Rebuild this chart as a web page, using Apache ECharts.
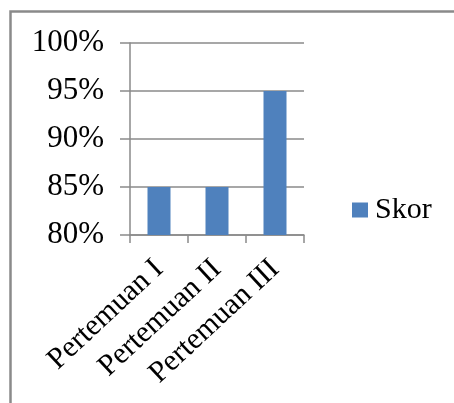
<!DOCTYPE html>
<html>
<head>
<meta charset="utf-8">
<style>
  html, body { margin: 0; padding: 0; background: #fff; }
  #chart { width: 454px; height: 403px; }
</style>
<script src="https://cdn.jsdelivr.net/npm/echarts@6/dist/echarts.min.js"></script>
</head>
<body>
<div id="chart"></div>
<script>
// Meeting categories and their scores (percent)
const categories = ['Pertemuan I', 'Pertemuan II', 'Pertemuan III'];
const skor = [85, 85, 95];
const seriesName = 'Skor';
// Value axis range (percent)
const yMin = 80;
const yMax = 100;
const yStep = 5;

const serif = '"Liberation Serif", "Times New Roman", serif';
const gray = '#8a8a8a';

const chart = echarts.init(document.getElementById('chart'), null, { renderer: 'canvas' });

chart.setOption({
  animation: false,
  backgroundColor: '#ffffff',
  graphic: [{
    type: 'rect',
    shape: { x: 10.5, y: 11.5, width: 600, height: 600 },
    style: { fill: 'none', stroke: gray, lineWidth: 2.5 },
    silent: true
  }],
  grid: { left: 130, right: 150, top: 43, bottom: 168, containLabel: false },
  legend: {
    data: [seriesName],
    left: 352,
    top: 195,
    padding: 0,
    icon: 'rect',
    itemWidth: 16,
    itemHeight: 15,
    textStyle: { fontFamily: serif, fontSize: 30, color: '#000', padding: [0, 0, 0, 2] }
  },
  xAxis: {
    type: 'category',
    data: categories,
    axisLine: { show: true, lineStyle: { color: gray, width: 1.5 } },
    axisTick: { show: true, length: 8, alignWithLabel: false, lineStyle: { color: gray, width: 1.5 } },
    axisLabel: {
      rotate: 43,
      interval: 0,
      margin: 30,
      fontFamily: serif,
      fontSize: 30,
      color: '#000'
    },
    splitLine: { show: false }
  },
  yAxis: {
    type: 'value',
    min: yMin,
    max: yMax,
    interval: yStep,
    axisLine: { show: true, lineStyle: { color: gray, width: 1.5 } },
    axisTick: { show: true, length: 10, inside: false, lineStyle: { color: gray, width: 1.5 } },
    axisLabel: {
      formatter: v => v + '%',
      margin: 26,
      fontFamily: serif,
      fontSize: 31,
      color: '#000'
    },
    splitLine: { show: true, lineStyle: { color: gray, width: 1.5 } }
  },
  series: [{
    name: seriesName,
    type: 'bar',
    data: skor,
    barWidth: 23,
    itemStyle: { color: '#4f81bd' }
  }]
});
</script>
</body>
</html>
